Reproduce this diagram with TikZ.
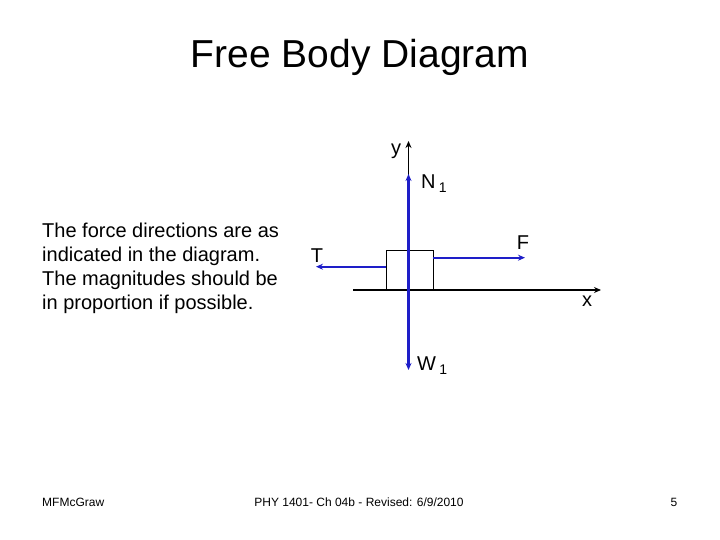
\documentclass[tikz,border=0pt]{standalone}
\usepackage{fontspec}
\setmainfont{Liberation Sans}
\usetikzlibrary{arrows.meta}
\definecolor{fblue}{RGB}{30,30,200}
\tikzset{
  axis/.style={draw=black,line width=1.6pt,-{Stealth[length=7pt,width=6pt]}},
  force/.style={draw=fblue,line width=2.4pt,-{Stealth[length=7pt,width=6pt]}},
  lbl/.style={inner sep=0pt,font=\fontsize{20}{24}\selectfont},
  foot/.style={inner sep=0pt,font=\fontsize{12}{14}\selectfont}
}
\begin{document}
\begin{tikzpicture}[x=1pt,y=-1pt]
\useasboundingbox (0,0) rectangle (720,540);
\node[inner sep=0pt,font=\fontsize{39}{44}\selectfont] (title) at (360,57) {Free Body Diagram};
\node[inner sep=0pt,anchor=north west,align=left,font=\fontsize{20}{24}\selectfont] (txt) at (42,223)
 {The force directions are as\\indicated in the diagram.\\The magnitudes should be\\in proportion if possible.};
% box
\node[draw=black,line width=0.8pt,minimum width=46.5pt,minimum height=40pt,inner sep=0pt,anchor=north west] (box) at (386,250) {};
% axes
\coordinate (xs) at (353,290);
\coordinate (xe) at (601,290);
\coordinate (ys) at (408.5,300);
\coordinate (ye) at (408.5,141);
\draw[axis] (xs) -- (xe);
\draw[axis] (ys) -- (ye);
% forces
\coordinate (o) at (408.5,290);
\coordinate (nend) at (408.5,174);
\coordinate (wend) at (408.5,370);
\coordinate (tend) at (316,266.7);
\coordinate (fend) at (525,257.7);
\draw[force] (o) -- (nend);
\draw[force] (o) -- (wend);
\draw[force] (box.west |- tend) -- (tend);
\draw[force] (box.east |- fend) -- (fend);
% labels
\node[lbl] (ly) at (396,151) {y};
\node[lbl,anchor=west] (ln) at (421,184) {N\,\raisebox{-4pt}{\fontsize{14}{14}\selectfont 1}};
\node[lbl] (lt) at (317,256) {T};
\node[lbl] (lf) at (523,243) {F};
\node[lbl] (lx) at (587,301) {x};
\node[lbl,anchor=west] (lw) at (417,366) {W\,\raisebox{-4pt}{\fontsize{14}{14}\selectfont 1}};
% footer
\node[foot,anchor=west] (f1) at (42,502) {MFMcGraw};
\node[foot] (f2) at (359,502) {PHY 1401- Ch 04b - Revised: 6/9/2010};
\node[foot] (f3) at (674,502) {5};
\end{tikzpicture}
\end{document}
